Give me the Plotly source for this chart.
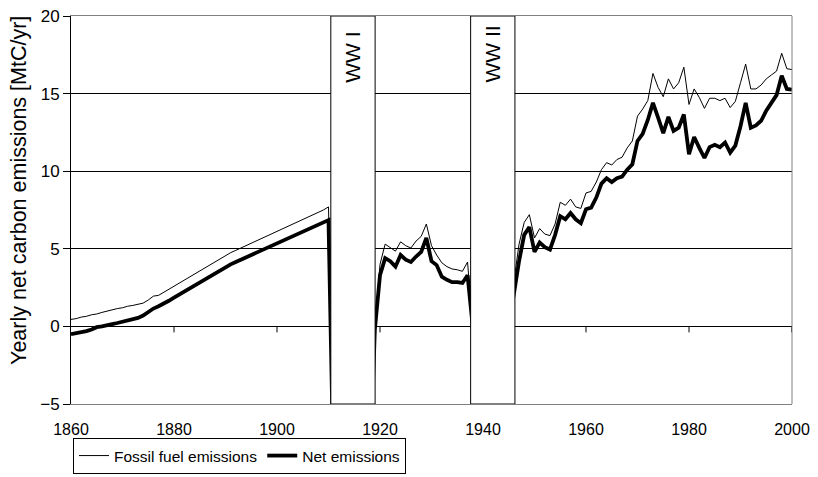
import plotly.graph_objects as go

# ---- data ----
years = list(range(1860, 2001))

fossil_1860_1910 = [0.45, 0.5, 0.6, 0.65, 0.75, 0.8, 0.9, 1.0, 1.1, 1.15,
                    1.2, 1.3, 1.35, 1.45, 1.5, 1.7, 1.95, 2.0, 2.2, 2.4,
                    2.6, 2.75, 2.95, 3.15, 3.4, 3.6, 3.75, 3.95, 4.15, 4.35,
                    4.55, 4.75, 4.9, 5.05, 5.2, 5.35, 5.5, 5.65, 5.8, 6.0,
                    6.15, 6.25, 6.4, 6.55, 6.7, 6.85, 7.0, 7.15, 7.3, 7.5,
                    7.7]
net_1860_1910 = [-0.5, -0.45, -0.35, -0.3, -0.2, -0.05, 0.0, 0.1, 0.15, 0.22,
                 0.3, 0.4, 0.45, 0.55, 0.7, 0.95, 1.15, 1.3, 1.45, 1.65,
                 1.85, 2.05, 2.25, 2.45, 2.65, 2.85, 3.05, 3.25, 3.45, 3.65,
                 3.85, 4.0, 4.15, 4.3, 4.45, 4.6, 4.7, 4.85, 5.0, 5.15,
                 5.35, 5.5, 5.6, 5.75, 5.9, 6.05, 6.2, 6.35, 6.5, 6.65,
                 6.85]
# war years (hidden behind the WW boxes)
fossil_1911_1918 = [-10, -10, -10, -10, -10, -10, -10, -10]
net_1911_1918 = [-10, -10, -10, -10, -10, -10, -10, -10]

fossil_1919_1937 = [0.0, 4.0, 5.3, 5.1, 4.85, 5.45, 5.2, 5.05, 5.5, 5.8,
                    6.6, 5.2, 4.6, 4.1, 3.85, 3.7, 3.65, 3.55, 4.15]
net_1919_1937 = [-0.2, 3.3, 4.4, 4.2, 3.85, 4.6, 4.3, 4.15, 4.5, 4.8,
                 5.7, 4.2, 3.95, 3.2, 3.0, 2.85, 2.85, 2.8, 3.3]

fossil_1938_1945 = [0, 0, 0, 0, 0, 0, 0, 0]
net_1938_1945 = [0, 0, 0, 0, 0, 0, 0, 0]

fossil_1946_2000 = [2.9,
                    5.3, 6.7, 7.2, 5.7, 6.3, 5.95, 5.85, 6.6, 8.0, 7.8,
                    8.2, 7.7, 7.6, 8.6, 8.7, 9.3, 10.1, 10.55, 10.4, 10.75,
                    10.9, 11.5, 11.95, 13.55, 14.0, 14.55, 16.3, 15.4, 14.8, 15.95,
                    15.3, 15.7, 16.7, 14.3, 15.3, 14.75, 14.05, 14.7, 14.7, 14.55,
                    14.7, 14.1, 14.5, 15.7, 16.9, 15.3, 15.3, 15.55, 15.95, 16.2,
                    16.45, 17.6, 16.6, 16.55]
net_1946_2000 = [2.1,
                 4.2, 5.9, 6.4, 4.8, 5.4, 5.1, 4.95, 5.9, 7.1, 6.9,
                 7.3, 6.9, 6.65, 7.55, 7.65, 8.3, 9.2, 9.55, 9.3, 9.55,
                 9.65, 10.1, 10.45, 11.95, 12.4, 13.3, 14.4, 13.45, 12.45, 13.5,
                 12.6, 12.8, 13.65, 11.1, 12.2, 11.5, 10.85, 11.55, 11.7, 11.55,
                 11.85, 11.2, 11.65, 12.9, 14.4, 12.8, 12.95, 13.25, 13.9, 14.4,
                 14.9, 16.15, 15.3, 15.25]

fossil = fossil_1860_1910 + fossil_1911_1918 + fossil_1919_1937 + fossil_1938_1945 + fossil_1946_2000
net = net_1860_1910 + net_1911_1918 + net_1919_1937 + net_1938_1945 + net_1946_2000

x_ticks = [1860, 1880, 1900, 1920, 1940, 1960, 1980, 2000]
y_ticks = [-5, 0, 5, 10, 15, 20]

wars = [("WW I", 1910.45, 1919.05), ("WW II", 1937.6, 1946.2)]

FONT = "Liberation Sans, Arial, sans-serif"

# page body has an 8px margin, so the figure is sized to fit the window
W, H = 810, 469

# ---- figure ----
fig = go.Figure()
fig.add_trace(go.Scatter(x=years, y=fossil, mode="lines",
                         line=dict(color="black", width=1),
                         name="Fossil fuel emissions"))
fig.add_trace(go.Scatter(x=years, y=net, mode="lines",
                         line=dict(color="black", width=3.8),
                         name="Net emissions"))

shapes = []
# right border of plot area
shapes.append(dict(type="line", xref="paper", yref="paper", x0=1, x1=1, y0=0, y1=1,
                   line=dict(color="#808080", width=1), layer="above"))
# x tick marks on the zero line
for t in x_ticks[1:]:
    shapes.append(dict(type="line", xref="x", yref="y", x0=t, x1=t,
                       ysizemode="pixel", yanchor=0, y0=0, y1=-6,
                       line=dict(color="black", width=1), layer="above"))
annotations = []
for label, x0, x1 in wars:
    shapes.append(dict(type="rect", xref="x", yref="y", x0=x0, x1=x1, y0=-5, y1=20,
                       fillcolor="white", line=dict(color="black", width=1), layer="above"))
    annotations.append(dict(x=(x0 + x1) / 2, y=15.6, xref="x", yref="y",
                            text=label, showarrow=False, textangle=-90,
                            yanchor="bottom", xanchor="center",
                            font=dict(family=FONT, size=21, color="black")))
# y axis title
annotations.append(dict(x=0, y=0.549, xref="paper", yref="paper", xanchor="center",
                        yanchor="middle", xshift=-52, textangle=-90, showarrow=False,
                        text="Yearly net carbon emissions [MtC/yr]",
                        font=dict(family=FONT, size=21.5, color="black")))

fig.update_layout(
    width=W, height=H,
    margin=dict(l=63, r=26, t=8, b=73),
    paper_bgcolor="white", plot_bgcolor="white",
    font=dict(family=FONT, size=15, color="black"),
    shapes=shapes, annotations=annotations,
    showlegend=True,
    legend=dict(orientation="h", xref="container", yref="container",
                x=65 / W, xanchor="left", y=1 - 430 / H, yanchor="top",
                bordercolor="black", borderwidth=1, bgcolor="white",
                font=dict(family=FONT, size=15.5, color="black"),
                itemwidth=30, tracegroupgap=0),
    xaxis=dict(range=[1860, 2000], tickvals=x_ticks, ticks="", showgrid=False,
               zeroline=False, showline=True, linecolor="#808080", linewidth=1,
               mirror=True, ticklabelstandoff=11, automargin=False,
               ticklabeloverflow="allow",
               tickfont=dict(family=FONT, size=16, color="black")),
    yaxis=dict(range=[-5, 20], tickvals=y_ticks, showgrid=True, gridcolor="black",
               gridwidth=1, zeroline=True, zerolinecolor="black", zerolinewidth=1,
               ticks="outside", ticklen=7, tickcolor="black", showline=True,
               linecolor="black", linewidth=1, automargin=False,
               ticklabeloverflow="allow",
               tickfont=dict(family=FONT, size=17, color="black")),
)

fig.write_html("out.html")
